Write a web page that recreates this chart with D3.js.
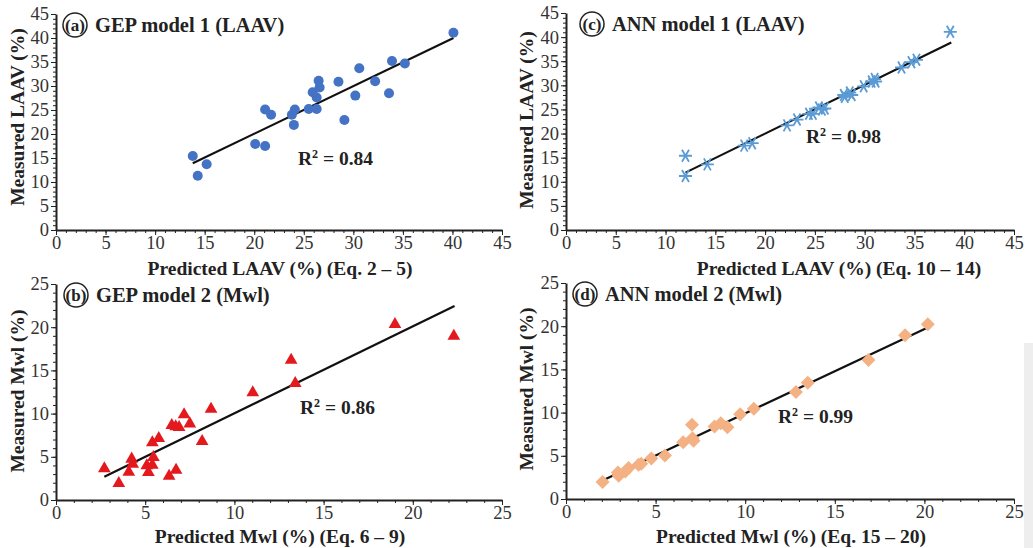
<!DOCTYPE html>
<html>
<head>
<meta charset="utf-8">
<script src="https://cdn.jsdelivr.net/npm/d3@7"></script>
<style>
  body { margin: 0; background: #fff; }
  svg { display: block; }
  .tick text { font-family: "Liberation Serif", "DejaVu Serif", serif; font-size: 18.5px; fill: #333; }
  .axis path, .axis line { stroke: #222; }
  .ttl { font-family: "Liberation Serif", "DejaVu Serif", serif; font-weight: bold; fill: #222; }
</style>
</head>
<body>
<div id="chart"></div>
<script>
// values
var gepLaavPred = [13.8, 14.3, 15.2, 20.1, 21.1, 21.1, 21.7, 23.8, 24.1, 24.0, 25.5, 26.3, 25.9, 26.3, 26.5, 26.6, 28.5, 29.1, 30.2, 30.6, 32.2, 33.6, 33.9, 35.2, 40.1];
var gepLaavMeas = [15.4, 11.3, 13.7, 17.9, 17.5, 25.1, 24.0, 24.0, 25.1, 21.9, 25.2, 25.2, 28.7, 27.6, 31.1, 29.7, 30.9, 22.9, 28.0, 33.7, 31.0, 28.5, 35.2, 34.7, 41.1];
var gepLaavFitX = [13.8, 40.1];
var gepLaavFitY = [13.9, 40.0];

var annLaavPred = [12.0, 12.0, 14.2, 17.9, 18.7, 22.2, 23.2, 24.4, 24.8, 25.4, 25.7, 26.0, 27.9, 28.0, 28.5, 28.7, 29.9, 30.7, 31.0, 31.1, 33.7, 34.7, 35.2, 38.6];
var annLaavMeas = [15.4, 11.2, 13.6, 17.5, 18.0, 21.7, 22.9, 24.1, 24.1, 25.4, 25.0, 25.2, 28.0, 27.6, 28.5, 28.0, 29.8, 30.8, 31.3, 30.8, 33.7, 34.8, 35.3, 41.1];
var annLaavFitX = [12.0, 38.7];
var annLaavFitY = [11.9, 38.9];

var gepMwlPred = [2.71, 3.52, 4.08, 4.24, 4.30, 5.09, 5.18, 5.40, 5.46, 5.40, 5.76, 6.49, 6.71, 6.90, 6.34, 6.73, 7.18, 7.50, 8.19, 8.69, 11.03, 13.18, 13.41, 19.0, 22.3];
var gepMwlMeas = [3.63, 1.93, 3.24, 4.75, 4.17, 3.97, 3.20, 4.05, 4.94, 6.64, 7.14, 8.64, 8.49, 8.41, 2.78, 3.47, 9.88, 8.83, 6.79, 10.53, 12.42, 16.2, 13.5, 20.33, 18.98];
var gepMwlFitX = [2.71, 22.34];
var gepMwlFitY = [2.70, 22.45];

var annMwlPred = [2.04, 2.90, 2.94, 3.31, 3.49, 4.05, 4.20, 4.76, 5.52, 6.54, 7.03, 7.06, 7.12, 8.29, 8.64, 9.01, 9.72, 10.48, 12.83, 13.49, 16.88, 18.92, 20.19];
var annMwlMeas = [1.96, 3.08, 2.69, 3.19, 3.58, 3.96, 4.08, 4.69, 5.04, 6.58, 8.58, 7.04, 6.73, 8.38, 8.77, 8.31, 9.81, 10.46, 12.38, 13.46, 16.08, 18.96, 20.23];
var annMwlFitX = [2.04, 20.19];
var annMwlFitY = [2.15, 19.85];

var laavTicks = [0, 5, 10, 15, 20, 25, 30, 35, 40, 45];
var mwlTicks = [0, 5, 10, 15, 20, 25];

var svg = d3.select("#chart").append("svg")
  .attr("width", 1033)
  .attr("height", 548);

// faint page shadow at bottom right
svg.append("rect").attr("x", 1024).attr("y", 343).attr("width", 9).attr("height", 205).attr("fill", "#eeeeee");

var panels = [
  { key: "a", title: "GEP model 1 (LAAV)", xs: gepLaavPred, ys: gepLaavMeas, fx: gepLaavFitX, fy: gepLaavFitY,
    ticks: laavTicks, max: 45, x0: 56, x1: 502, y0: 230, y1: 14, sym: "circle", color: "#4472c4",
    xt: "Predicted LAAV (%) (Eq. 2 \u2013 5)", yt: "Measured LAAV (%)", r2: "0.84", r2x: 298, r2y: 165,
    cx: 75, ytx: 17, yty: 117, xtx: 280, xtb: 275 },
  { key: "c", title: "ANN model 1 (LAAV)", xs: annLaavPred, ys: annLaavMeas, fx: annLaavFitX, fy: annLaavFitY,
    ticks: laavTicks, max: 45, x0: 566, x1: 1014, y0: 230, y1: 13, sym: "star", color: "#5b9bd5",
    xt: "Predicted LAAV (%) (Eq. 10 \u2013 14)", yt: "Measured LAAV (%)", r2: "0.98", r2x: 806, r2y: 143,
    cx: 592, ytx: 526, yty: 120, xtx: 839, xtb: 275 },
  { key: "b", title: "GEP model 2 (Mwl)", xs: gepMwlPred, ys: gepMwlMeas, fx: gepMwlFitX, fy: gepMwlFitY,
    ticks: mwlTicks, max: 25, x0: 56, x1: 502, y0: 500, y1: 284, sym: "triangle", color: "#e3191e",
    xt: "Predicted Mwl (%) (Eq. 6 \u2013 9)", yt: "Measured Mwl (%)", r2: "0.86", r2x: 300, r2y: 414,
    cx: 76, ytx: 17, yty: 391, xtx: 280, xtb: 543 },
  { key: "d", title: "ANN model 2 (Mwl)", xs: annMwlPred, ys: annMwlMeas, fx: annMwlFitX, fy: annMwlFitY,
    ticks: mwlTicks, max: 25, x0: 566, x1: 1014, y0: 499, y1: 283, sym: "diamond", color: "#f4b183",
    xt: "Predicted Mwl (%) (Eq. 15 \u2013 20)", yt: "Measured Mwl (%)", r2: "0.99", r2x: 778, r2y: 423,
    cx: 585, ytx: 526, yty: 389, xtx: 791, xtb: 543 }
];

panels.forEach(function(p) {
  var x = d3.scaleLinear().domain([0, p.max]).range([p.x0, p.x1]);
  var y = d3.scaleLinear().domain([0, p.max]).range([p.y0, p.y1]);
  var g = svg.append("g");

  // minor ticks every 1 unit
  g.append("g").attr("class", "axis").attr("transform", `translate(0,${p.y0})`)
    .call(d3.axisBottom(x).tickValues(d3.range(0, p.max + 1)).tickSize(3).tickFormat(""))
    .select(".domain").remove();
  g.append("g").attr("class", "axis").attr("transform", `translate(${p.x0},0)`)
    .call(d3.axisLeft(y).tickValues(d3.range(0, p.max + 1)).tickSize(3).tickFormat(""))
    .select(".domain").remove();

  var xa = g.append("g").attr("class", "axis").attr("transform", `translate(0,${p.y0})`)
    .call(d3.axisBottom(x).tickValues(p.ticks).tickSize(5).tickSizeOuter(0).tickPadding(1));
  var ya = g.append("g").attr("class", "axis").attr("transform", `translate(${p.x0},0)`)
    .call(d3.axisLeft(y).tickValues(p.ticks).tickSize(5).tickSizeOuter(0).tickPadding(2));
  xa.select(".domain").attr("stroke-width", 2);
  ya.select(".domain").attr("stroke-width", 2);

  // regression line
  g.append("line")
    .attr("x1", x(p.fx[0])).attr("y1", y(p.fy[0]))
    .attr("x2", x(p.fx[1])).attr("y2", y(p.fy[1]))
    .attr("stroke", "#111").attr("stroke-width", 2.2);

  var pts = p.xs.map(function(v, i) { return [v, p.ys[i]]; });
  var sel = g.selectAll(".pt").data(pts).enter();
  if (p.sym === "circle") {
    sel.append("circle").attr("cx", d => x(d[0])).attr("cy", d => y(d[1]))
      .attr("r", 5).attr("fill", p.color);
  } else if (p.sym === "star") {
    sel.append("path").attr("transform", d => `translate(${x(d[0])},${y(d[1])})`)
      .attr("d", "M-6.5,0H6.5M-3.5,-6L3.5,6M-3.5,6L3.5,-6")
      .attr("stroke", p.color).attr("stroke-width", 1.8).attr("fill", "none");
  } else if (p.sym === "triangle") {
    sel.append("path").attr("transform", d => `translate(${x(d[0])},${y(d[1])})`)
      .attr("d", d3.symbol(d3.symbolTriangle, 70)()).attr("fill", p.color);
  } else {
    sel.append("path").attr("transform", d => `translate(${x(d[0])},${y(d[1])})`)
      .attr("d", "M0,-7L7,0L0,7L-7,0Z").attr("fill", p.color);
  }

  // panel heading
  var ty = p.y1 + 12;
  g.append("circle").attr("cx", p.cx).attr("cy", ty - 1).attr("r", 12)
    .attr("fill", "none").attr("stroke", "#222").attr("stroke-width", 1.5);
  g.append("text").attr("class", "ttl").attr("x", p.cx).attr("y", ty + 5)
    .attr("text-anchor", "middle").attr("font-size", 17).text("(" + p.key + ")");
  g.append("text").attr("class", "ttl").attr("x", p.cx + 20).attr("y", ty + 6)
    .attr("font-size", 20.5).text(p.title);

  // R squared
  var r = g.append("text").attr("class", "ttl").attr("x", p.r2x).attr("y", p.r2y).attr("font-size", 19.5);
  r.append("tspan").text("R");
  r.append("tspan").attr("dy", -7).attr("font-size", 12).text("2");
  r.append("tspan").attr("dy", 7).text(" = " + p.r2);

  // axis titles
  g.append("text").attr("class", "ttl").attr("x", p.xtx).attr("y", p.xtb)
    .attr("text-anchor", "middle").attr("font-size", 19.5).text(p.xt);
  g.append("text").attr("class", "ttl")
    .attr("transform", `translate(${p.ytx},${p.yty}) rotate(-90)`)
    .attr("text-anchor", "middle").attr("dy", "0.35em").attr("font-size", 19.5).text(p.yt);
});
</script>
</body>
</html>
